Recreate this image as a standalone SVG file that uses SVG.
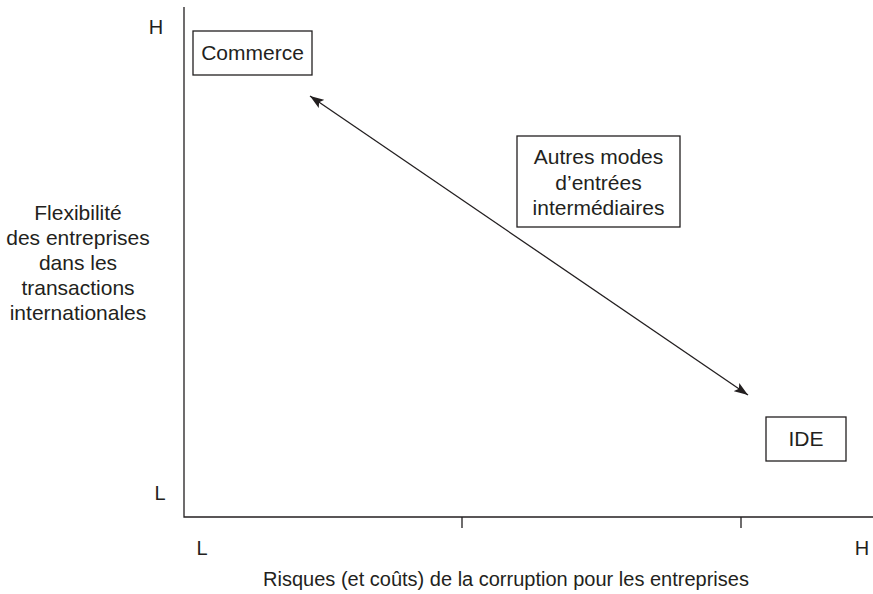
<svg xmlns="http://www.w3.org/2000/svg" width="873" height="594" viewBox="0 0 873 594">
<style>
text{font-family:"Liberation Sans",Arial,sans-serif;font-size:21px;fill:#231f20;}
.c{text-anchor:middle;}
.t{font-size:20px;}
.box{fill:#fff;stroke:#231f20;stroke-width:1.3;}
.ax{stroke:#231f20;stroke-width:1.3;fill:none;}
</style>
<defs>
<marker id="ah" viewBox="0 0 14 10" refX="14" refY="5" markerWidth="14" markerHeight="10" markerUnits="userSpaceOnUse" orient="auto-start-reverse">
<path d="M0,0 L14,5 L0,10 L3,5 Z" fill="#231f20"/>
</marker>
</defs>
<g id="axes">
<path class="ax" d="M184,7 V517 H873"/>
<path class="ax" d="M462,517 V528 M741,517 V528"/>
<text class="c t" x="156" y="34">H</text>
<text class="c t" x="160" y="500">L</text>
<text class="c t" x="202" y="555">L</text>
<text class="c t" x="862" y="555">H</text>
<text class="c t" x="506" y="586">Risques (et coûts) de la corruption pour les entreprises</text>
<text class="c" x="78" y="220">Flexibilité</text>
<text class="c" x="78" y="245">des entreprises</text>
<text class="c" x="78" y="270">dans les</text>
<text class="c" x="78" y="295">transactions</text>
<text class="c" x="78" y="320">internationales</text>
</g>
<g id="connectors">
<line class="ax" x1="310" y1="96" x2="748" y2="395" marker-start="url(#ah)" marker-end="url(#ah)"/>
</g>
<g id="commerce">
<rect class="box" x="193" y="31" width="119" height="44"/>
<text class="c" x="252.5" y="60">Commerce</text>
</g>
<g id="autres">
<rect class="box" x="517" y="136" width="163" height="91"/>
<text class="c" x="598.5" y="164">Autres modes</text>
<text class="c" x="598.5" y="190">d’entrées</text>
<text class="c" x="598.5" y="215">intermédiaires</text>
</g>
<g id="ide">
<rect class="box" x="766" y="417" width="80" height="44"/>
<text class="c" x="806" y="446">IDE</text>
</g>
</svg>
